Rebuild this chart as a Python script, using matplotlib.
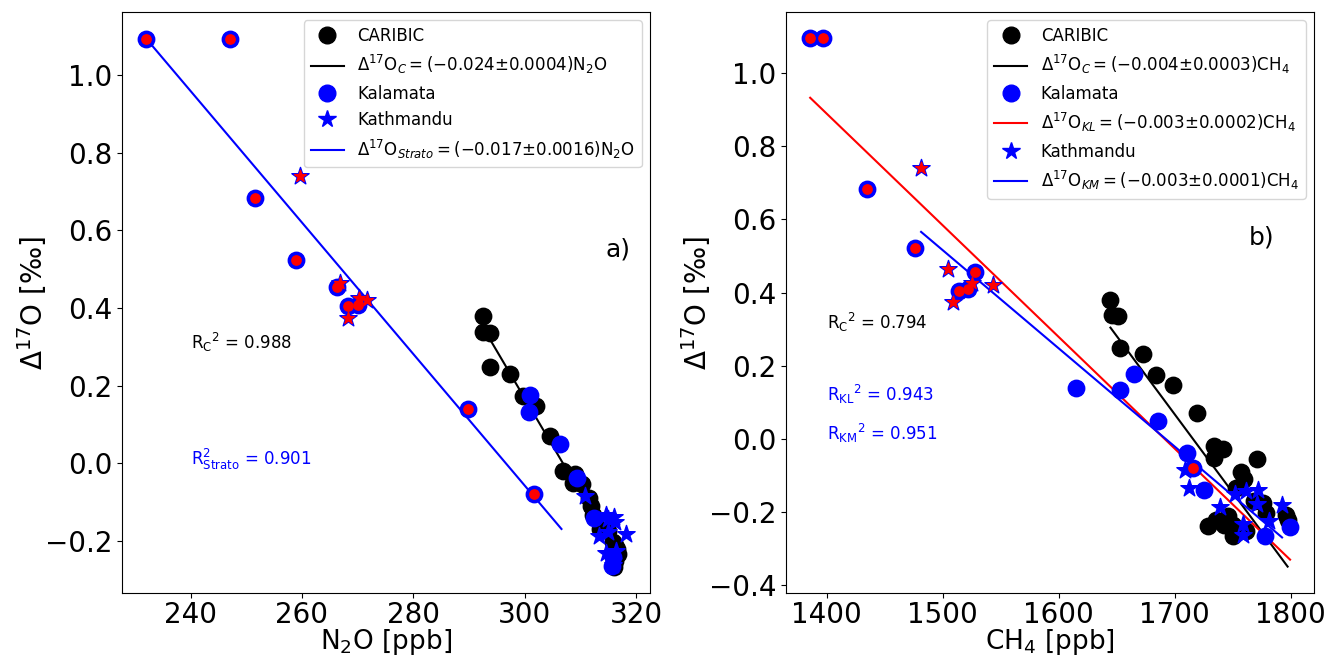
import numpy as np
import matplotlib

matplotlib.use("Agg")
import matplotlib.pyplot as plt
from matplotlib.lines import Line2D


# CARIBIC samples (shared D17O, N2O and CH4)
caribic_d17o = [0.380, 0.338, 0.336, 0.249, 0.231, 0.174, 0.146, 0.070, -0.020, -0.027,
                -0.052, -0.054, -0.090, -0.110, -0.135, -0.171, -0.175, -0.203, -0.209,
                -0.221, -0.239, -0.221, -0.212, -0.235, -0.267, -0.253, -0.235]
caribic_n2o = [292.5, 292.5, 293.7, 293.7, 297.4, 299.7, 302.1, 304.6, 306.9, 309.0,
               308.7, 310.2, 311.6, 311.9, 312.2, 313.5, 315.0, 315.8, 316.0,
               316.3, 315.9, 316.5, 316.2, 316.6, 316.0, 316.3, 316.8]
caribic_ch4 = [1644.6, 1646.0, 1650.9, 1653.2, 1673.0, 1683.9, 1698.8, 1718.9, 1734.2, 1741.9,
               1734.2, 1770.6, 1757.2, 1760.0, 1752.9, 1768.6, 1775.8, 1778.7, 1795.9,
               1797.3, 1728.4, 1735.6, 1745.6, 1749.9, 1749.9, 1761.5, 1742.8]

# Kalamata, tropospheric
kl_d17o = [0.176, 0.133, 0.048, -0.038, -0.141, -0.266, -0.242]
kl_n2o = [301.0, 300.7, 306.3, 309.4, 312.5, 315.6, 315.8]
kl_ch4 = [1664.6, 1652.9, 1685.3, 1710.3, 1724.8, 1778.1, 1799.4]

# Kalamata, stratospheric influence (red centre)
kls_d17o = [1.095, 1.095, 0.684, 0.523, 0.455, 0.405, 0.409, 0.139, -0.079]
kls_n2o = [232.0, 247.0, 251.6, 259.0, 266.3, 268.2, 270.0, 289.9, 301.6]
kls_ch4 = [1385.8, 1396.6, 1434.6, 1476.3, 1528.2, 1514.4, 1521.6, 1615.0, 1715.5]
kls_red_ch4 = [True, True, True, True, True, True, True, False, True]

# Kathmandu, tropospheric
km_d17o = [-0.086, -0.134, -0.187, -0.152, -0.143, -0.139, -0.182, -0.178, -0.226, -0.233, -0.262]
km_n2o = [310.9, 314.6, 313.4, 316.3, 315.0, 316.0, 318.2, 314.9, 316.4, 314.6, 315.8]
km_ch4 = [1709.2, 1712.0, 1739.1, 1752.3, 1761.5, 1771.5, 1792.5, 1770.6, 1781.0, 1759.1, 1758.6]

# Kathmandu, stratospheric influence
kms_d17o = [0.741, 0.464, 0.375, 0.425, 0.421]
kms_n2o = [259.6, 266.9, 268.3, 270.3, 271.7]
kms_ch4 = [1481.4, 1504.4, 1509.0, 1525.0, 1543.1]

# fits: slope, intercept, x range
fit_c_n2o = (-0.0244, 7.487, 292.5, 316.8)
fit_strato_n2o = (-0.01696, 5.030, 232.0, 306.6)
fit_c_ch4 = (-0.00428, 7.343, 1644.6, 1797.3)
fit_kl_ch4 = (-0.003054, 5.165, 1385.8, 1799.4)
fit_km_ch4 = (-0.002686, 4.545, 1481.4, 1792.5)

FS_TICK = 20
FS_LEG = 12
S_BIG = 140
S_SMALL = 45
S_STAR = 170


def fit_line(ax, fit, color):
    m, b, x0, x1 = fit
    xs = np.array([x0, x1])
    ax.plot(xs, m * xs + b, color=color, lw=1.5)


def strato_points(ax, x, y, xs, ys):
    ax.scatter(x, y, s=S_BIG, color="blue", zorder=3)
    ax.scatter(xs, ys, s=S_STAR, marker="*", color="blue", zorder=3)
    ax.scatter(xs, ys, s=80, marker="*", color="red", zorder=4)


fig = plt.figure(figsize=(13.28, 6.57), dpi=100)
ax1 = fig.add_axes([0.0919, 0.0974, 0.3976, 0.8843])
ax2 = fig.add_axes([0.592, 0.0974, 0.3975, 0.8843])

# ---- panel a) N2O ----
ax1.scatter(caribic_n2o, caribic_d17o, s=S_BIG, color="black", zorder=2)
fit_line(ax1, fit_c_n2o, "black")
ax1.scatter(kl_n2o, kl_d17o, s=S_BIG, color="blue", zorder=3)
ax1.scatter(km_n2o, km_d17o, s=S_STAR, marker="*", color="blue", zorder=3)
strato_points(ax1, kls_n2o, kls_d17o, kms_n2o, kms_d17o)
ax1.scatter(kls_n2o, kls_d17o, s=S_SMALL, color="red", zorder=4)
fit_line(ax1, fit_strato_n2o, "blue")

handles1 = [
    Line2D([], [], ls="", marker="o", ms=12, color="black"),
    Line2D([], [], color="black", lw=1.5),
    Line2D([], [], ls="", marker="o", ms=12, color="blue"),
    Line2D([], [], ls="", marker="*", ms=13, color="blue"),
    Line2D([], [], color="blue", lw=1.5),
]
labels1 = [
    "CARIBIC",
    r"$\Delta^{17}$O$_C = (-0.024{\pm}0.0004)$N$_2$O",
    "Kalamata",
    "Kathmandu",
    r"$\Delta^{17}$O$_{Strato} = (-0.017{\pm}0.0016)$N$_2$O",
]
ax1.legend(handles1, labels1, loc="upper right", fontsize=FS_LEG)

ax1.text(240.1, 0.312, r"R$_{\mathrm{C}}$$^{2}$ = 0.988", fontsize=FS_LEG,
         va="center", color="black")
ax1.text(240.1, 0.010, r"R$^2_{\mathrm{Strato}}$ = 0.901", fontsize=FS_LEG,
         va="center", color="blue")
ax1.text(314.5, 0.55, "a)", fontsize=18, va="center")

ax1.set_xlabel("N$_2$O [ppb]", fontsize=19, labelpad=-1)
ax1.set_ylabel(r"$\Delta^{17}$O [‰]", fontsize=FS_TICK, labelpad=-3)
ax1.set_xticks([240, 260, 280, 300, 320])
ax1.set_yticks([-0.2, 0.0, 0.2, 0.4, 0.6, 0.8, 1.0])
ax1.tick_params(labelsize=FS_TICK)
ax1.tick_params(axis="x", pad=2)

# ---- panel b) CH4 ----
ax2.scatter(caribic_ch4, caribic_d17o, s=S_BIG, color="black", zorder=2)
fit_line(ax2, fit_c_ch4, "black")
ax2.scatter(kl_ch4, kl_d17o, s=S_BIG, color="blue", zorder=3)
ax2.scatter(km_ch4, km_d17o, s=S_STAR, marker="*", color="blue", zorder=3)
strato_points(ax2, kls_ch4, kls_d17o, kms_ch4, kms_d17o)
red_x = [x for x, r in zip(kls_ch4, kls_red_ch4) if r]
red_y = [y for y, r in zip(kls_d17o, kls_red_ch4) if r]
ax2.scatter(red_x, red_y, s=S_SMALL, color="red", zorder=4)
fit_line(ax2, fit_kl_ch4, "red")
fit_line(ax2, fit_km_ch4, "blue")

handles2 = [
    Line2D([], [], ls="", marker="o", ms=12, color="black"),
    Line2D([], [], color="black", lw=1.5),
    Line2D([], [], ls="", marker="o", ms=12, color="blue"),
    Line2D([], [], color="red", lw=1.5),
    Line2D([], [], ls="", marker="*", ms=13, color="blue"),
    Line2D([], [], color="blue", lw=1.5),
]
labels2 = [
    "CARIBIC",
    r"$\Delta^{17}$O$_C = (-0.004{\pm}0.0003)$CH$_4$",
    "Kalamata",
    r"$\Delta^{17}$O$_{KL} = (-0.003{\pm}0.0002)$CH$_4$",
    "Kathmandu",
    r"$\Delta^{17}$O$_{KM} = (-0.003{\pm}0.0001)$CH$_4$",
]
ax2.legend(handles2, labels2, loc="upper right", fontsize=FS_LEG)

ax2.text(1400.7, 0.318, r"R$_{\mathrm{C}}$$^{2}$ = 0.794", fontsize=FS_LEG,
         va="center", color="black")
ax2.text(1400.7, 0.120, r"R$_{\mathrm{KL}}$$^{2}$ = 0.943", fontsize=FS_LEG,
         va="center", color="blue")
ax2.text(1400.7, 0.016, r"R$_{\mathrm{KM}}$$^{2}$ = 0.951", fontsize=FS_LEG,
         va="center", color="blue")
ax2.text(1764, 0.55, "b)", fontsize=18, va="center")

ax2.set_xlabel("CH$_4$ [ppb]", fontsize=19, labelpad=-1)
ax2.set_ylabel(r"$\Delta^{17}$O [‰]", fontsize=FS_TICK, labelpad=-3)
ax2.set_xticks([1400, 1500, 1600, 1700, 1800])
ax2.set_yticks([-0.4, -0.2, 0.0, 0.2, 0.4, 0.6, 0.8, 1.0])
ax2.tick_params(labelsize=FS_TICK)
ax2.tick_params(axis="x", pad=2)

fig.savefig("out.png", dpi=100)
